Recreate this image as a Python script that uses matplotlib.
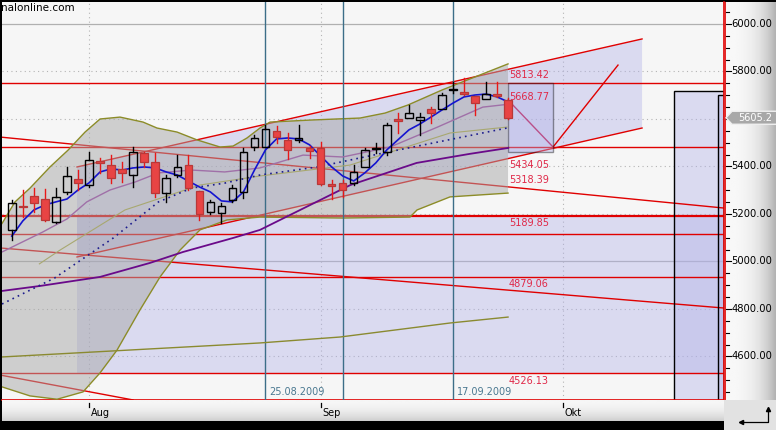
import numpy as np
import matplotlib
matplotlib.use('Agg')
import matplotlib.pyplot as plt
from matplotlib.patches import Rectangle, Polygon

# ---------------- data (x = trading-day index, 0 = 03.08.2009) ----------------
candle_idx = list(range(-7, 39))
opens  = [5133, 5232, 5276, 5263, 5166, 5293, 5347, 5322, 5423, 5406, 5389, 5364, 5457, 5419, 5288, 5364,
          5406, 5297, 5208, 5204, 5259, 5293, 5482, 5482, 5550, 5512, 5512, 5478, 5478, 5326, 5331, 5331,
          5398, 5473, 5461, 5600, 5604, 5596, 5642, 5642, 5722, 5713, 5697, 5684, 5705, 5680]
highs  = [5259, 5301, 5309, 5305, 5309, 5398, 5385, 5461, 5436, 5448, 5419, 5482, 5460, 5457, 5364, 5448,
          5448, 5297, 5259, 5246, 5322, 5478, 5533, 5575, 5571, 5541, 5575, 5486, 5503, 5343, 5343, 5406,
          5478, 5499, 5583, 5625, 5659, 5625, 5651, 5709, 5756, 5773, 5697, 5756, 5756, 5688]
lows   = [5091, 5187, 5208, 5171, 5162, 5284, 5301, 5314, 5373, 5331, 5335, 5314, 5398, 5272, 5251, 5356,
          5301, 5175, 5200, 5162, 5251, 5267, 5470, 5482, 5499, 5432, 5503, 5436, 5322, 5263, 5272, 5322,
          5398, 5457, 5448, 5541, 5604, 5533, 5583, 5642, 5709, 5700, 5617, 5684, 5692, 5600]
closes = [5246, 5228, 5246, 5175, 5272, 5360, 5331, 5427, 5415, 5352, 5373, 5461, 5419, 5288, 5352, 5398,
          5309, 5200, 5251, 5234, 5309, 5461, 5520, 5558, 5524, 5469, 5520, 5465, 5326, 5318, 5301, 5377,
          5469, 5478, 5575, 5592, 5625, 5608, 5625, 5701, 5726, 5705, 5667, 5705, 5697, 5605]

ma_fast_idx = list(range(-7, 39))
ma_fast = [5107, 5171, 5217, 5238, 5251, 5263, 5301, 5331, 5377, 5390, 5385, 5394, 5398, 5394, 5377, 5364,
           5339, 5314, 5293, 5255, 5251, 5293, 5385, 5470, 5516, 5520, 5516, 5491, 5444, 5398, 5360, 5339,
           5373, 5415, 5470, 5512, 5554, 5579, 5608, 5638, 5667, 5693, 5701, 5705, 5693, 5672]

bb_up_idx = [-7.89, -6.71, -5.35, -3.54, -1.90, -0.36, 1.00, 2.81, 4.90, 6.16, 7.98, 9.79, 11.88, 13.06,
             14.32, 15.50, 16.41, 20.31, 24.57, 26.84, 28.92, 32.00, 34.99, 37.99]
bb_up = [5160, 5251, 5309, 5398, 5469, 5545, 5600, 5608, 5587, 5562, 5545, 5512, 5482, 5486,
         5520, 5562, 5587, 5596, 5604, 5625, 5659, 5722, 5777, 5832]
bb_lo_idx = [-7.89, -5.35, -2.9, -0.54, 1.0, 2.54, 4.62, 6.44, 8.25, 10.06, 12.51, 15.5, 23.03, 29.1,
             29.74, 32.73, 37.99]
bb_lo = [4472, 4434, 4420, 4451, 4531, 4627, 4796, 4935, 5048, 5133, 5175, 5187, 5183, 5187,
         5217, 5272, 5288]

ma_mid_idx = [-7.89, -4.2, -2.0, -0.2, 1.9, 4.2, 6.3, 9.3, 12.3, 15.5, 19.4, 23.0, 27.3, 31.6, 35.7, 38.0]
ma_mid = [5040, 5124, 5179, 5251, 5301, 5335, 5373, 5385, 5377, 5394, 5448, 5440, 5482, 5566, 5650, 5662]

ma_long_idx = [-7.89, -4.44, 1.0, 5.53, 8.52, 13.06, 15.5, 23.7, 29.7, 34.5, 38.0]
ma_long = [4876, 4897, 4935, 4994, 5040, 5099, 5133, 5322, 5415, 5453, 5478]

ma_dot_idx = [-7.89, -3.1, 2.2, 6.3, 9.3, 12.3, 15.5, 20.7, 26.7, 31.2, 37.9]
ma_dot = [4821, 4931, 5099, 5251, 5309, 5330, 5364, 5398, 5457, 5499, 5562]

ma_khaki_idx = [-4.5, -2.63, 3.26, 10.06, 15.5, 23.66, 32.73, 37.9]
ma_khaki = [4990, 5048, 5217, 5322, 5360, 5406, 5541, 5566]

ma_slow_idx = [-7.89, 15.5, 22.76, 32.73, 37.99]
ma_slow = [4598, 4657, 4682, 4741, 4766]

h_levels = [5753, 5484, 5192, 5116, 4933, 4532]
fib_labels = ['5813.42', '5668.77', '5434.05', '5318.39', '5189.85', '4879.06', '4526.13']
fib_label_y = [5787, 5693, 5406, 5343, 5162, 4905, 4497]

trend_desc = [((-8.07, 5524), (57.57, 5225)), ((-8.07, 5057), (57.57, 4804)), ((-8.07, 4522), (3.99, 4417))]
channel_up = ((-1.09, 5398), (50.14, 5937))
channel_lo = ((-1.09, 5019), (50.14, 5562))
v_path = [(37.99, 5680), (42.07, 5482), (47.96, 5827)]

zone_big = (-1.09, 57.6, 4532, 5192)
box = (37.99, 42.07, 5461, 5753)
right_rects = [(53.04, 57.6, 4400, 5718), (57.03, 57.6, 4400, 5701)]

vline_idx = [16, 23, 33]
vline_labels = ['25.08.2009', '', '17.09.2009']
month_idx = [0, 21, 43]
month_labels = ['Aug', 'Sep', 'Okt']
price_ticks = [4600, 4800, 5000, 5200, 5400, 5800, 6000]   # 5600 hidden behind the price tag
last_price = 5605.2

XL, XR = -7.89, 57.57
YB, YT = 4416.8, 6092.6

# ---------------- figure ----------------
W, H = 776, 430
fig = plt.figure(figsize=(W / 100, H / 100), dpi=100, facecolor='black')


def px_box(x0, y0, x1, y1):
    return [x0 / W, 1 - y1 / H, (x1 - x0) / W, (y1 - y0) / H]


ax = fig.add_axes(px_box(2, 2, 724, 400))
ax.set_xlim(XL, XR)
ax.set_ylim(YB, YT)
ax.set_facecolor('#f6f6f6')
ax.set_xticks([])
ax.set_yticks([])
for s in ['top', 'left']:
    ax.spines[s].set_visible(False)
for s in ['right', 'bottom']:
    ax.spines[s].set_color('#e00000')
    ax.spines[s].set_linewidth(1.2)

# grid
for v in [4600, 4800, 5200, 5400, 5600, 5800]:
    ax.axhline(v, color='#b4b4b4', lw=0.8, ls=(0, (1, 3)), zorder=0.5)
for v in [5000, 6000]:
    ax.axhline(v, color='#b0b0b0', lw=0.9, zorder=0.5)
for m in month_idx:
    ax.axvline(m, color='#b4b4b4', lw=0.8, ls=(0, (1, 3)), zorder=0.5)

lav = (176 / 255, 176 / 255, 232 / 255)
# lavender zones
x0, x1, y0, y1 = zone_big
ax.add_patch(Rectangle((x0, y0), x1 - x0, y1 - y0, facecolor=lav, alpha=0.4, lw=0, zorder=1))
ax.add_patch(Polygon([channel_up[0], channel_up[1], channel_lo[1], channel_lo[0]], closed=True,
                     facecolor=lav, alpha=0.4, lw=0, zorder=1))
x0, x1, y0, y1 = box
ax.add_patch(Rectangle((x0, y0), x1 - x0, y1 - y0, facecolor=lav, alpha=0.4, edgecolor='black', lw=1,
                       zorder=2.5))
for (x0, x1, y0, y1) in right_rects:
    ax.add_patch(Rectangle((x0, y0), x1 - x0, y1 - y0, facecolor=lav, alpha=0.4, lw=0, zorder=1))
    ax.add_patch(Rectangle((x0, y0), x1 - x0, y1 - y0, fill=False, edgecolor='black', lw=1, zorder=2.5))

# red lines
for v in h_levels:
    ax.axhline(v, color='#e00000', lw=1.6 if v == 5192 else 1.0, zorder=2)
for (a, b) in trend_desc:
    ax.plot([a[0], b[0]], [a[1], b[1]], color='#e00000', lw=1.0, zorder=2)
for ln in (channel_up, channel_lo):
    ax.plot([ln[0][0], ln[1][0]], [ln[0][1], ln[1][1]], color='#e00000', lw=1.0, zorder=2)
ax.plot([v_path[0][0], v_path[1][0]], [v_path[0][1], v_path[1][1]], color='#c0104a', lw=1.0, zorder=2)
ax.plot([v_path[1][0], v_path[2][0]], [v_path[1][1], v_path[2][1]], color='#e00000', lw=1.0, zorder=2)

# bollinger band fill (semi-transparent, above the red lines)
band_pts = list(zip(bb_up_idx, bb_up)) + list(zip(bb_lo_idx, bb_lo))[::-1]
ax.add_patch(Polygon(band_pts, closed=True, facecolor='#a8a8a8', alpha=0.5, lw=0, zorder=3))
ax.plot(bb_up_idx, bb_up, color='#8c8c28', lw=1.0, zorder=4)
ax.plot(bb_lo_idx, bb_lo, color='#8c8c28', lw=1.0, zorder=4)

# vertical date lines
for xi, lab in zip(vline_idx, vline_labels):
    ax.axvline(xi, color='#3c6e88', lw=1.0, zorder=4)
    if lab:
        ax.text(xi + 0.33, 4452, lab, color='#4a7890', fontsize=7, va='center', ha='left', zorder=6)

# moving averages
ax.plot(ma_slow_idx, ma_slow, color='#8a8a30', lw=1.0, zorder=4)
ax.plot(ma_khaki_idx, ma_khaki, color='#a8a870', lw=0.8, zorder=4)
ax.plot(ma_long_idx, ma_long, color='#6a0a8a', lw=1.3, zorder=4)
ax.plot(ma_dot_idx, ma_dot, color='#1c1c8c', lw=1.2, ls=(0, (1, 2.5)), zorder=4)
ax.plot(ma_mid_idx, ma_mid, color='#a070a8', lw=1.0, zorder=4)
ax.plot(ma_fast_idx, ma_fast, color='#1414d0', lw=1.2, zorder=4.5)

# candles
bw = 0.68
for i, o, h, l, c in zip(candle_idx, opens, highs, lows, closes):
    lo_b, hi_b = min(o, c), max(o, c)
    if c > o:
        ax.plot([i, i], [l, lo_b], color='black', lw=1.0, zorder=5)
        ax.plot([i, i], [hi_b, h], color='black', lw=1.0, zorder=5)
        ax.add_patch(Rectangle((i - bw / 2, lo_b), bw, hi_b - lo_b, fill=False, edgecolor='black',
                               lw=1.0, zorder=5))
    else:
        ax.plot([i, i], [l, h], color='#e81818', lw=1.0, zorder=5)
        ax.add_patch(Rectangle((i - bw / 2, lo_b), bw, max(hi_b - lo_b, 2), facecolor='#e84444',
                               edgecolor='#b83838', lw=0.9, zorder=5.1))

# fib labels
for txt, yv in zip(fib_labels, fib_label_y):
    ax.text(38.05, yv, txt, color='#e02848', fontsize=7, va='center', ha='left', zorder=6)

fig.text(1 / W, 1 - 8 / H, 'nalonline.com', color='black', fontsize=7.5, va='center', ha='left')

# ---------------- right price axis ----------------
axr = fig.add_axes(px_box(724, 2, 776, 400))
axr.set_xlim(0, 52)
axr.set_ylim(YB, YT)
axr.axis('off')
g = np.linspace(0, 1, 100)
shade = 248 - 70 * g ** 3
grad = np.tile(shade, (2, 1)) / 255
axr.imshow(grad, cmap='gray', vmin=0, vmax=1, extent=[0, 52, YB, YT], aspect='auto', zorder=0)
axr.plot([0.6, 0.6], [YB, YT], color='#e00000', lw=1.2, zorder=2)
for v in range(4450, 6100, 50):
    if v % 200 == 0:
        axr.plot([2, 7], [v, v], color='black', lw=0.8, zorder=2)
        if v in price_ticks:
            axr.text(7.5, v, f'{v:.2f}', fontsize=7.2, va='center', ha='left', color='black', zorder=3)
    else:
        axr.plot([2, 5], [v, v], color='black', lw=0.8, zorder=2)
hh = 6.5 / 0.2375
tag = [(2, last_price), (8, last_price + hh), (53, last_price + hh), (53, last_price - hh), (8, last_price - hh)]
axr.add_patch(Polygon(tag, closed=True, facecolor='#a8a8a8', edgecolor='#f0f0f0', lw=1, zorder=4))
axr.text(14, last_price, f'{last_price:.1f}', color='white', fontsize=7, va='center', ha='left', zorder=5)

# ---------------- bottom date axis ----------------
axb = fig.add_axes(px_box(2, 400, 724, 421))
axb.set_xlim(XL, XR)
axb.set_ylim(0, 21)
axb.axis('off')
gb = np.linspace(0, 1, 50)[:, None]
shade_b = (246 - 40 * gb ** 2) / 255
axb.imshow(np.tile(shade_b, (1, 2)), cmap='gray', vmin=0, vmax=1, extent=[XL, XR, 0, 21], aspect='auto',
           zorder=0)
for m, lab in zip(month_idx, month_labels):
    axb.plot([m, m], [18, 14], color='black', lw=0.9, zorder=2)
    axb.text(m + 0.15, 8.5, lab, fontsize=7, va='center', ha='left', color='black', zorder=3)

# ---------------- bottom right corner ----------------
axc = fig.add_axes(px_box(724, 400, 776, 430))
axc.set_xlim(0, 52)
axc.set_ylim(30, 0)
axc.axis('off')
axc.add_patch(Rectangle((0, 0), 52, 30, facecolor='#e2e2e2', lw=0, zorder=0))
axc.plot([44, 44, 17], [9, 22, 22], color='black', lw=0.9, zorder=2)
axc.plot([44], [9], marker='^', color='black', ms=3, zorder=3)
axc.plot([17], [22], marker='<', color='black', ms=3, zorder=3)

fig.savefig('out.png', dpi=100, facecolor=fig.get_facecolor())
